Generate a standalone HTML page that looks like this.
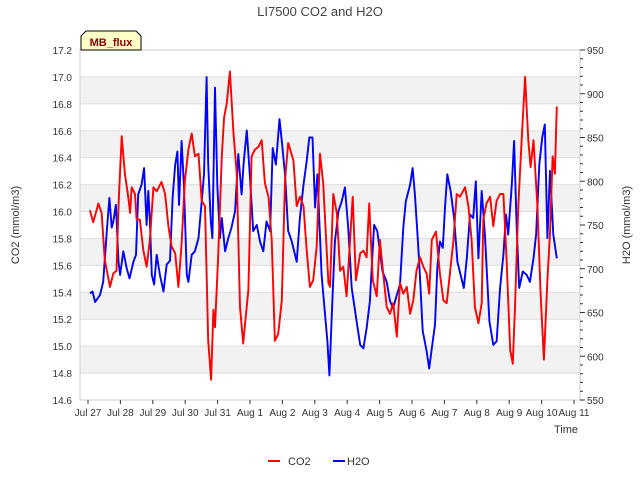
<!DOCTYPE html>
<html><head><meta charset="utf-8"><style>
html,body{margin:0;padding:0;background:#fff;}
svg{display:block;font-family:"Liberation Sans",sans-serif;}
</style></head><body>
<svg id="chart" width="640" height="480" viewBox="0 0 640 480" xmlns="http://www.w3.org/2000/svg">
<text x="320" y="16" text-anchor="middle" font-size="13" fill="#444">LI7500 CO2 and H2O</text>
<g id="bands"></g><g id="grid"></g>
<rect x="80" y="50" width="500" height="350" fill="none" stroke="#ccc"/>
<g id="axes"></g><g id="series"></g>
<g>
<path d="M81,50 L81,36 L86,31 L136,31 L141,36 L141,50 Z" fill="#ffffc8" stroke="#000" stroke-width="1"/>
<text x="111" y="46" text-anchor="middle" font-size="11" font-weight="bold" fill="#8b0000">MB_flux</text>
</g>
<text transform="translate(19,225) rotate(-90)" text-anchor="middle" font-size="11" fill="#333">CO2 (mmol/m3)</text>
<text transform="translate(630,225) rotate(-90)" text-anchor="middle" font-size="11" fill="#333">H2O (mmol/m3)</text>
<text x="566" y="433" text-anchor="middle" font-size="11" fill="#333">Time</text>
<g>
<line x1="268" y1="461" x2="280" y2="461" stroke="#f00" stroke-width="2"/>
<text x="288" y="465" font-size="11" fill="#333">CO2</text>
<line x1="333" y1="461" x2="345" y2="461" stroke="#00f" stroke-width="2"/>
<text x="347" y="465" font-size="11" fill="#333">H2O</text>
</g>
</svg>
<script>
const xTickLabels=["Jul 27","Jul 28","Jul 29","Jul 30","Jul 31","Aug 1","Aug 2","Aug 3","Aug 4","Aug 5","Aug 6","Aug 7","Aug 8","Aug 9","Aug 10","Aug 11"];
const leftTicks=[14.6,14.8,15.0,15.2,15.4,15.6,15.8,16.0,16.2,16.4,16.6,16.8,17.0,17.2];
const rightTicks=[550,600,650,700,750,800,850,900,950];
const co2Days=[0.06,0.16,0.32,0.42,0.52,0.68,0.78,0.88,0.94,1.04,1.14,1.24,1.30,1.35,1.45,1.50,1.60,1.71,1.81,1.91,2.02,2.12,2.27,2.38,2.48,2.58,2.69,2.79,2.89,2.99,3.10,3.20,3.30,3.41,3.51,3.61,3.66,3.71,3.80,3.87,3.92,4.02,4.13,4.20,4.28,4.38,4.49,4.59,4.69,4.79,4.85,4.95,5.05,5.15,5.26,5.36,5.46,5.57,5.67,5.77,5.87,5.98,6.08,6.18,6.34,6.44,6.54,6.65,6.75,6.85,6.95,7.06,7.16,7.26,7.42,7.47,7.57,7.68,7.78,7.88,7.98,8.09,8.17,8.27,8.40,8.50,8.60,8.68,8.79,8.91,9.01,9.11,9.22,9.32,9.42,9.53,9.63,9.73,9.84,9.94,10.04,10.14,10.25,10.35,10.45,10.53,10.61,10.74,10.86,10.97,11.07,11.17,11.28,11.38,11.48,11.64,11.74,11.84,11.94,12.05,12.15,12.20,12.30,12.41,12.51,12.61,12.72,12.82,12.92,13.03,13.11,13.18,13.28,13.38,13.49,13.59,13.66,13.75,13.87,13.97,14.07,14.18,14.26,14.34,14.41,14.47];
const co2Values=[16.01,15.92,16.06,15.99,15.64,15.44,15.54,15.56,16.04,16.56,16.28,16.11,15.99,16.18,16.13,15.94,15.94,15.71,15.59,15.79,16.18,16.15,16.22,16.13,15.89,15.74,15.69,15.44,15.76,16.23,16.46,16.58,16.41,16.43,16.08,16.04,15.54,15.04,14.75,15.27,15.14,15.67,16.41,16.70,16.80,17.04,16.58,16.29,15.29,15.02,15.17,15.42,16.41,16.46,16.48,16.53,16.21,16.11,15.79,15.04,15.09,15.34,16.23,16.51,16.38,16.04,16.11,16.04,15.71,15.44,15.49,15.74,16.43,16.21,15.47,15.44,16.13,15.99,15.56,15.59,15.37,15.79,16.11,15.49,15.69,15.71,15.66,16.06,15.49,15.37,15.79,15.54,15.29,15.24,15.32,15.07,15.47,15.39,15.44,15.24,15.34,15.56,15.66,15.59,15.54,15.39,15.79,15.85,15.54,15.34,15.32,15.54,15.79,16.13,16.11,16.18,16.04,15.79,15.29,15.17,15.32,15.94,16.06,16.11,15.89,16.08,16.13,16.13,15.64,14.97,14.87,15.29,16.04,16.51,17.00,16.53,16.33,16.53,16.04,15.39,14.90,15.49,15.84,16.41,16.28,16.78];
const h2oDays=[0.06,0.14,0.22,0.37,0.47,0.58,0.66,0.73,0.78,0.86,0.94,0.99,1.09,1.19,1.28,1.40,1.48,1.55,1.65,1.73,1.81,1.86,1.91,1.97,2.04,2.12,2.22,2.33,2.43,2.53,2.61,2.69,2.76,2.81,2.89,2.96,3.05,3.10,3.20,3.30,3.41,3.51,3.58,3.66,3.71,3.79,3.84,3.92,3.99,4.07,4.13,4.23,4.33,4.43,4.54,4.64,4.74,4.81,4.90,5.00,5.10,5.21,5.31,5.41,5.51,5.62,5.70,5.80,5.91,5.98,6.08,6.18,6.29,6.44,6.54,6.65,6.75,6.83,6.93,7.01,7.08,7.21,7.31,7.39,7.45,7.55,7.62,7.73,7.83,7.93,8.03,8.14,8.29,8.40,8.50,8.60,8.70,8.75,8.83,8.93,9.01,9.09,9.22,9.32,9.42,9.53,9.63,9.73,9.81,9.94,10.02,10.09,10.17,10.23,10.33,10.45,10.53,10.61,10.71,10.78,10.86,10.95,11.02,11.09,11.19,11.30,11.40,11.50,11.60,11.69,11.79,11.89,11.97,12.05,12.15,12.25,12.39,12.51,12.61,12.72,12.82,12.90,12.97,13.08,13.15,13.23,13.31,13.42,13.54,13.64,13.75,13.83,13.93,14.02,14.10,14.18,14.26,14.36,14.47];
const h2oValues=[672,674,662,670,685,743,781,747,754,773,708,693,720,701,689,708,716,785,796,815,750,789,754,693,682,716,693,674,705,709,781,819,834,773,846,796,693,685,716,720,735,777,808,919,819,754,735,907,796,735,758,720,735,747,766,831,785,823,858,804,743,750,731,720,754,743,838,819,871,846,808,743,731,708,758,796,823,850,850,770,808,693,651,617,578,670,731,766,777,793,747,678,640,613,609,632,663,697,750,743,720,697,685,663,655,670,682,747,777,796,815,785,739,701,629,606,586,609,636,701,731,724,770,808,789,758,708,693,678,712,762,758,800,712,789,739,640,613,617,678,716,762,739,796,846,747,678,697,693,685,712,739,819,850,865,735,812,739,712];

const NS="http://www.w3.org/2000/svg";
const X0=88,PXD=32.4,T=50,B=400;
const xS=d=>X0+d*PXD;
const yL=v=>B-(v-14.6)/(17.2-14.6)*(B-T);
const yR=v=>B-(v-550)/(950-550)*(B-T);
function mk(tag,attrs,parent){const e=document.createElementNS(NS,tag);for(const k in attrs)e.setAttribute(k,attrs[k]);parent.appendChild(e);return e;}
const bands=document.getElementById('bands'),grid=document.getElementById('grid'),axes=document.getElementById('axes'),series=document.getElementById('series');
for(let i=0;i<leftTicks.length-1;i++){
  if(i%2===1){const r=mk('rect',{x:80,y:yL(leftTicks[i+1]),width:500,height:yL(leftTicks[i])-yL(leftTicks[i+1]),fill:'#f2f2f2'},bands);
  
  }
}
leftTicks.forEach(v=>{
  const l=mk('line',{x1:80,x2:580,y1:yL(v),y2:yL(v),stroke:'#ddd'},grid);
  
  
  const t=mk('text',{x:72,y:yL(v)+4,'text-anchor':'end','font-size':10,fill:'#333'},axes);
  
  
  t.textContent=v.toFixed(1);
});
for(let v=550;v<=950;v+=10){
  const major=v%50===0;
  mk('line',{x1:580,x2:major?585:583,y1:yR(v),y2:yR(v),stroke:'#333'},axes);
}
rightTicks.forEach(v=>{
  const t=mk('text',{x:587,y:yR(v)+4,'font-size':10,fill:'#333'},axes);
  
  
  t.textContent=v;
});
xTickLabels.forEach((s,i)=>{
  mk('line',{x1:xS(i),x2:xS(i),y1:400,y2:404,stroke:'#333'},axes);
  const t=mk('text',{x:xS(i),y:416,'text-anchor':'middle','font-size':10,fill:'#333'},axes);
  
  
  t.textContent=s;
});
const h=mk('polyline',{points:h2oDays.map((d,i)=>xS(d).toFixed(1)+','+yR(h2oValues[i]).toFixed(1)).join(' '),fill:'none',stroke:'#0000ff','stroke-width':1.9,'stroke-linejoin':'round'},series);


const c=mk('polyline',{points:co2Days.map((d,i)=>xS(d).toFixed(1)+','+yL(co2Values[i]).toFixed(1)).join(' '),fill:'none',stroke:'#ff0000','stroke-width':1.9,'stroke-linejoin':'round'},series);


</script>
</body></html>
